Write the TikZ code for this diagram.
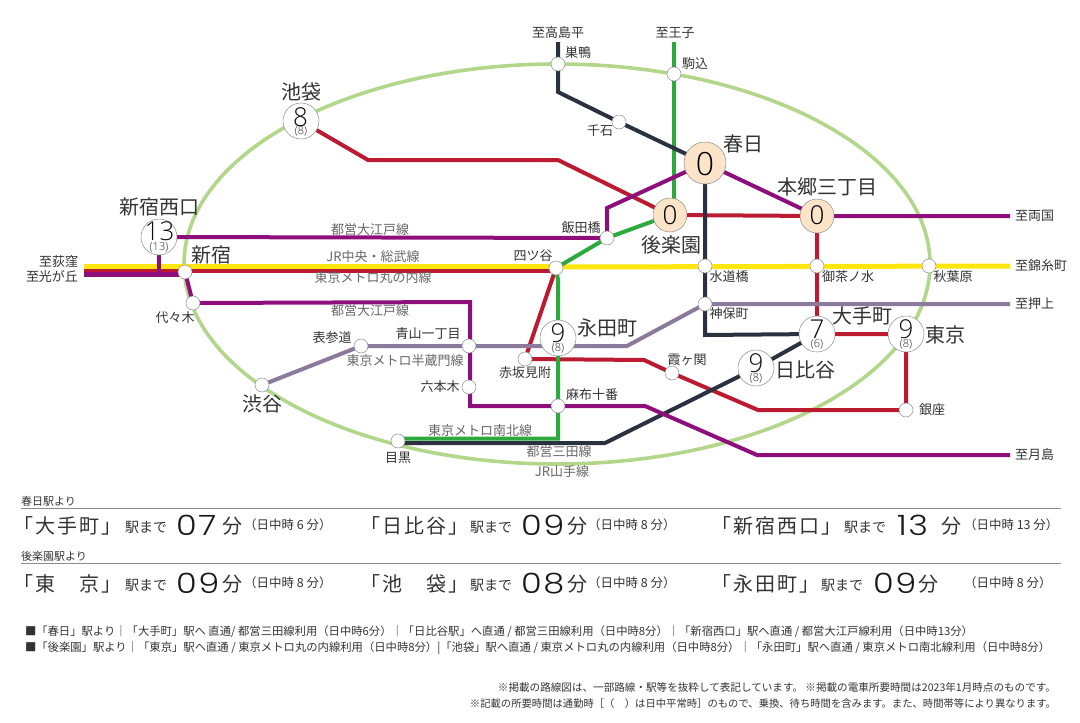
\documentclass[tikz,border=0pt]{standalone}
\usepackage{fontspec}
\setmainfont{Noto Sans CJK JP}
\newfontfamily\widecjk[LetterSpace=10]{Noto Sans CJK JP}
\newfontfamily\numfont{Open Sans Light}
\newfontfamily\widenum[LetterSpace=6,FakeStretch=1.2]{Poppins Light}
\usetikzlibrary{calc,shapes.geometric}
\pgfdeclarelayer{fg}
\pgfdeclarelayer{fgtext}
\pgfsetlayers{main,fg,fgtext}
\definecolor{cRed}{HTML}{BC1A30}
\definecolor{cPur}{HTML}{8E0F7C}
\definecolor{cYel}{HTML}{FFE60F}
\definecolor{cGrn}{HTML}{2DAA3E}
\definecolor{cDrk}{HTML}{2A3240}
\definecolor{cHan}{HTML}{8B7A9B}
\definecolor{cLoop}{HTML}{B2D68A}
\definecolor{cPeach}{HTML}{FCE4C8}
\definecolor{cTxt}{HTML}{333333}
\definecolor{cLine}{HTML}{666666}
\tikzset{
  x=1pt,y=-1pt,
  every node/.style={inner sep=0pt,outer sep=0pt,text=cTxt},
  stn/.style={circle,draw=black!45,line width=0.5pt,fill=white,minimum size=14pt},
  timestn/.style={circle,draw=black!45,line width=0.5pt,fill=white,minimum size=36pt},
  zerostn/.style={circle,draw=black!45,line width=0.5pt,fill=cPeach,minimum size=34pt},
  lred/.style={draw=cRed,line width=4pt,line join=miter},
  lpur/.style={draw=cPur,line width=4pt,line join=miter},
  lyel/.style={draw=cYel,line width=5pt},
  lgrn/.style={draw=cGrn,line width=4pt,line join=miter},
  ldrk/.style={draw=cDrk,line width=4pt,line join=miter},
  lhan/.style={draw=cHan,line width=4pt,line join=miter},
  lbig/.style={font=\fontsize{20}{20}\selectfont},
  lsml/.style={font=\fontsize{13}{13}\selectfont},
  lnam/.style={font=\fontsize{13}{13}\selectfont,text=cLine},
  num/.style={font=\numfont\fontsize{26}{26}\selectfont,text=black!95,text height=18.6pt,text depth=0pt},
  numz/.style={font=\numfont\fontsize{32}{32}\selectfont,text=black,text height=23pt,text depth=0pt},
  numm/.style={font=\numfont\fontsize{26}{26}\selectfont,text=black,text height=18.6pt,text depth=0pt},
  sub/.style={font=\numfont\fontsize{11}{11}\selectfont,text=black!85,text height=7pt,text depth=2pt},
  tname/.style={anchor=base west,font=\widecjk\fontsize{20}{20}\selectfont},
  tto/.style={anchor=base west,font=\fontsize{14}{14}\selectfont},
  tmin/.style={anchor=base west,font=\widenum\fontsize{28}{28}\selectfont,text=black!90},
  tfun/.style={anchor=base west,font=\fontsize{20}{20}\selectfont},
  tday/.style={anchor=base west,font=\fontsize{12.5}{12.5}\selectfont},
  thead/.style={anchor=base west,font=\fontsize{11}{11}\selectfont},
  tnote/.style={anchor=base west},
  tfoot/.style={anchor=base east}
}
\begin{document}
\begin{tikzpicture}
\useasboundingbox (0,0) rectangle (1080,723);
% loop
\node[ellipse,draw=cLoop,line width=3.6pt,minimum width=746pt,minimum height=400pt] (loop) at (557,264) {};
\begin{pgfonlayer}{fg}
\node[timestn] (ikebukuro) at (301,121) {};
\node[timestn] (nishiguchi) at (159,237) {};
\node[stn] (shinjuku) at (185,272) {};
\node[stn] (yoyogi) at (193,303) {};
\node[stn] (shibuya) at (262,385) {};
\node[stn] (omotesando) at (361,346) {};
\node[stn] (aoyama) at (469,346) {};
\node[stn] (roppongi) at (469,387) {};
\node[stn] (azabu) at (558,406) {};
\node[stn] (meguro) at (398,441) {};
\node[stn] (akasaka) at (525,359) {};
\node[timestn] (nagatacho) at (558,338) {};
\node[stn] (yotsuya) at (556,268) {};
\node[stn] (iidabashi) at (607,238) {};
\node[zerostn] (korakuen) at (670,215) {};
\node[zerostn,minimum size=42pt] (kasuga) at (705,163) {};
\node[zerostn] (hongo) at (817,216) {};
\node[stn] (sugamo) at (558,64) {};
\node[stn] (komagome) at (674,74) {};
\node[stn] (sengoku) at (619,122) {};
\node[stn] (suidobashi) at (705,266) {};
\node[stn] (ochanomizu) at (817,266) {};
\node[stn] (akihabara) at (929,266) {};
\node[stn] (jimbocho) at (705,304) {};
\node[timestn] (otemachi) at (817,334) {};
\node[timestn] (tokyo) at (906,334) {};
\node[timestn] (hibiya) at (756,368) {};
\node[stn] (ginza) at (906,410) {};
\node[stn] (kasumi) at (672,373) {};
\end{pgfonlayer}
% free ends and bends
\coordinate (wYel) at (84,267);
\coordinate (mYel) at (556,267);
\coordinate (wRed) at (84,271);
\coordinate (mRed) at (556,271);
\coordinate (wPur) at (84,274.5);
\coordinate (mPur) at (185,274.5);
\coordinate (eOedo) at (1010,216);
\coordinate (eChuo) at (1010,266);
\coordinate (eHan) at (1010,304);
\coordinate (eTsuki) at (1010,455);
\coordinate (nMita) at (558,42);
\coordinate (nNam) at (674,42);
\coordinate (bA) at (368,160);
\coordinate (bB) at (558,160);
\coordinate (bC) at (758,410);
\coordinate (bD) at (644,360);
\coordinate (bE) at (607,208);
\coordinate (bF) at (470,302);
\coordinate (bG) at (470,406);
\coordinate (bH) at (645,406);
\coordinate (bI) at (757,455);
\coordinate (bJ) at (627,346);
\coordinate (bK) at (558,92);
\coordinate (bL) at (705,335);
\coordinate (bM) at (605,443);
\coordinate (bN) at (558,438.5);
\coordinate (bO) at (398,438.5);
\coordinate (bP) at (398,443);
\coordinate (bQ) at (674,215);
\coordinate (bR) at (558,280);
\coordinate (bS) at (159,274);
% yellow
\draw[lyel,line width=5.5pt] (wYel) -- (mYel);
\draw[lyel] (mYel) -- (eChuo);
% red Marunouchi
\draw[lred,line width=3.2pt] (wRed) -- (mRed);
\draw[lred] (yotsuya.center) -- (akasaka.center) -- (bD) -- (kasumi.center) -- (bC) -- (ginza.center) -- (tokyo.center) -- (otemachi.center) -- (hongo.center) -- (korakuen.center) -- (bB) -- (bA) -- (ikebukuro.center);
% green
\draw[lgrn] (nNam) -- (komagome.center) -- (bQ);
\draw[lgrn] (korakuen.center) -- (iidabashi.center) -- (yotsuya.center) -- (bR) -- (nagatacho.center) -- (azabu.center) -- (bN) -- (bO);
% dark Mita
\draw[ldrk] (nMita) -- (sugamo.center) -- (bK) -- (sengoku.center) -- (kasuga.center) -- (bL) -- (otemachi.center) -- (hibiya.center) -- (bM) -- (bP);
% Hanzomon
\draw[lhan] (shibuya.center) -- (omotesando.center) -- (aoyama.center) -- (bJ) -- (jimbocho.center) -- (eHan);
% purple
\draw[lpur] (nishiguchi.center) -- (iidabashi.center) -- (bE) -- (kasuga.center) -- (hongo.center) -- (eOedo);
\draw[lpur] (nishiguchi.center) -- (bS);
\draw[lpur,line width=4.6pt] (wPur) -- (mPur);
\draw[lpur] (shinjuku.center) -- (yoyogi.center) -- (bF) -- (bG) -- (azabu.center) -- (bH) -- (bI) -- (eTsuki);
\begin{pgfonlayer}{fgtext}
% numbers
\node[num] (n1) at (300.5,117) {8}; \node[sub] (s1) at (301,132) {(8)};
\node[num] (n2) at (159.5,231) {13}; \node[sub] (s2) at (159,248) {(13)};
\node[num] (n3) at (558,333) {9}; \node[sub] (s3) at (558,348.5) {(8)};
\node[num] (n4) at (817,329) {7}; \node[sub] (s4) at (817,345) {(6)};
\node[num] (n5) at (906,329) {9}; \node[sub] (s5) at (906,345) {(8)};
\node[num] (n6) at (756,363) {9}; \node[sub] (s6) at (756,379) {(8)};
\node[numz] (n7) at (705,164) {0};
\node[numm] (n8) at (670,215) {0};
\node[numm] (n9) at (817,215.5) {0};
\end{pgfonlayer}
% large labels
\node[lbig] (tIke) at (301,92) {池袋};
\node[lbig] (tNis) at (159,207) {新宿西口};
\node[lbig] (tShi) at (211,255) {新宿};
\node[lbig] (tSbu) at (262,404) {渋谷};
\node[lbig] (tKas) at (743,144) {春日};
\node[lbig] (tHon) at (827,187) {本郷三丁目};
\node[lbig] (tKor) at (671,245) {後楽園};
\node[lbig] (tNag) at (607,328) {永田町};
\node[lbig] (tOte) at (862,316) {大手町};
\node[lbig] (tTok) at (945,335) {東京};
\node[lbig] (tHib) at (805,370) {日比谷};
% small labels
\node[lsml] (l1) at (558,33) {至高島平};
\node[lsml] (l2) at (578,53) {巣鴨};
\node[lsml] (l3) at (675,33) {至王子};
\node[lsml] (l4) at (695,64) {駒込};
\node[lsml] (l5) at (600,131) {千石};
\node[lsml,anchor=east] (l6) at (78,262) {至荻窪};
\node[lsml,anchor=east] (l7) at (78,277) {至光が丘};
\node[lsml] (l8) at (175,318) {代々木};
\node[lsml] (l9) at (332,338) {表参道};
\node[lsml] (l10) at (428,334) {青山一丁目};
\node[lsml] (l11) at (440,387) {六本木};
\node[lsml] (l12) at (398,458) {目黒};
\node[lsml] (l13) at (533,256) {四ツ谷};
\node[lsml] (l14) at (581,228) {飯田橋};
\node[lsml] (l15) at (525,373) {赤坂見附};
\node[lsml] (l16) at (592,395) {麻布十番};
\node[lsml] (l17) at (687,360) {霞ヶ関};
\node[lsml] (l18) at (932,410) {銀座};
\node[lsml] (l19) at (729,277) {水道橋};
\node[lsml] (l20) at (848,277) {御茶ノ水};
\node[lsml] (l21) at (953,277) {秋葉原};
\node[lsml] (l22) at (729,314) {神保町};
\node[lsml,anchor=west] (l23) at (1015,216) {至両国};
\node[lsml,anchor=west] (l24) at (1015,266) {至錦糸町};
\node[lsml,anchor=west] (l25) at (1015,304) {至押上};
\node[lsml,anchor=west] (l26) at (1015,455) {至月島};
% line names
\node[lnam] (m1) at (370,230) {都営大江戸線};
\node[lnam] (m2) at (373,257) {JR中央・総武線};
\node[lnam] (m3) at (373,278) {東京メトロ丸の内線};
\node[lnam] (m4) at (370,311) {都営大江戸線};
\node[lnam] (m5) at (405,361) {東京メトロ半蔵門線};
\node[lnam] (m6) at (480,431) {東京メトロ南北線};
\node[lnam] (m7) at (559,452) {都営三田線};
\node[lnam] (m8) at (562,472) {JR山手線};
% table
\coordinate (r1a) at (21,508); \coordinate (r1b) at (1061,508);
\coordinate (r2a) at (21,563); \coordinate (r2b) at (1061,563);
\draw[black!45,line width=0.7pt] (r1a) -- (r1b);
\draw[black!45,line width=0.7pt] (r2a) -- (r2b);
\node[thead] (h1) at (21,505) {春日駅より};
\node[thead] (h2) at (21,560) {後楽園駅より};
% row 1
\node[tname] (a1) at (13,533) {「大手町」};
\node[tto] (a2) at (125,532) {駅まで};
\node[tmin] (a3) at (176,535) {07};
\node[tfun] (a4) at (222,533) {分};
\node[tday] (a5) at (244,529) {（日中時 6 分）};
\node[tname] (b1) at (360,533) {「日比谷」};
\node[tto] (b2) at (470,532) {駅まで};
\node[tmin] (b3) at (521,535) {09};
\node[tfun] (b4) at (567,533) {分};
\node[tday] (b5) at (588,529) {（日中時 8 分）};
\node[tname] (c1) at (711,533) {「新宿西口」};
\node[tto] (c2) at (844,532) {駅まで};
\node[tmin] (c3) at (897,535) {13};
\node[tfun] (c4) at (941,533) {分};
\node[tday] (c5) at (964,529) {（日中時 13 分）};
% row 2
\node[tname] (d1) at (13,591) {「東　京」};
\node[tto] (d2) at (125,590) {駅まで};
\node[tmin] (d3) at (176,593) {09};
\node[tfun] (d4) at (222,591) {分};
\node[tday] (d5) at (244,587) {（日中時 8 分）};
\node[tname] (e1) at (360,591) {「池　袋」};
\node[tto] (e2) at (470,590) {駅まで};
\node[tmin] (e3) at (521,593) {08};
\node[tfun] (e4) at (567,591) {分};
\node[tday] (e5) at (588,587) {（日中時 8 分）};
\node[tname] (f1) at (711,591) {「永田町」};
\node[tto] (f2) at (821,590) {駅まで};
\node[tmin] (f3) at (873,593) {09};
\node[tfun] (f4) at (918,591) {分};
\node[tday] (f5) at (964,587) {（日中時 8 分）};
% notes
\node[tnote] (g1) at (25,635) {\resizebox{948pt}{!}{■「春日」駅より｜「大手町」駅へ 直通/ 都営三田線利用（日中時6分）｜「日比谷駅」へ直通 / 都営三田線利用（日中時8分）｜「新宿西口」駅へ直通 / 都営大江戸線利用（日中時13分）}};
\node[tnote] (g2) at (25,651) {\resizebox{1025pt}{!}{■「後楽園」駅より｜「東京」駅へ直通 / 東京メトロ丸の内線利用（日中時8分）|「池袋」駅へ直通 / 東京メトロ丸の内線利用（日中時8分）｜「永田町」駅へ直通 / 東京メトロ南北線利用（日中時8分）}};
\node[tfoot] (g3) at (1056,691) {\resizebox{558pt}{!}{※掲載の路線図は、一部路線・駅等を抜粋して表記しています。 ※掲載の電車所要時間は2023年1月時点のものです。}};
\node[tfoot] (g4) at (1056,707) {\resizebox{586pt}{!}{※記載の所要時間は通勤時［（　）は日中平常時］のもので、乗換、待ち時間を含みます。また、時間帯等により異なります。}};
\end{tikzpicture}
\end{document}
